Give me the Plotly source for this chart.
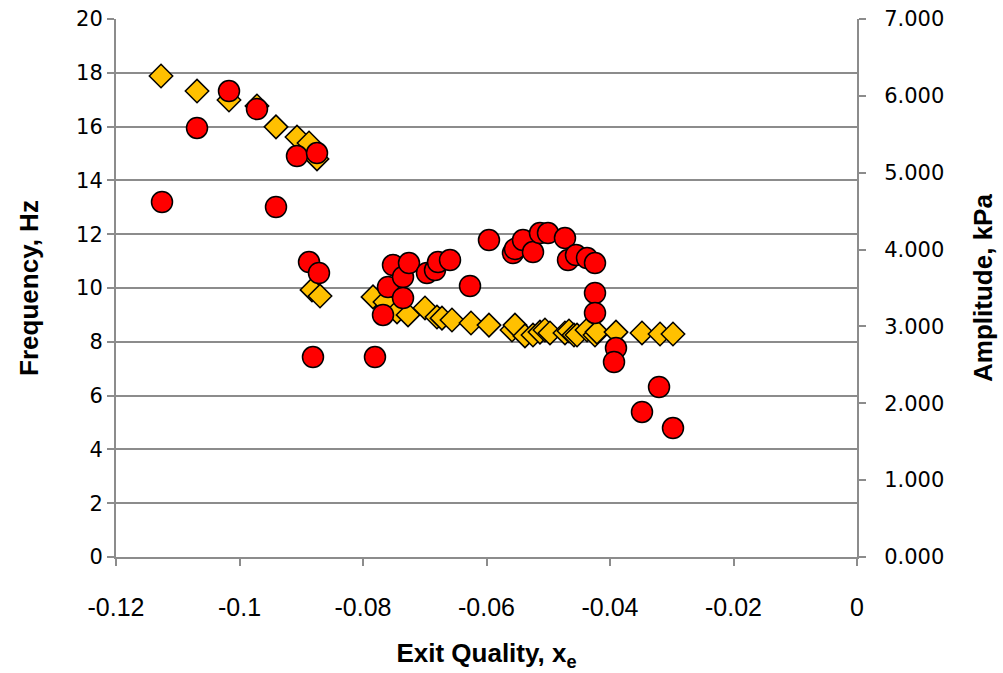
import plotly.graph_objects as go

# Frequency (left axis) vs exit quality
freq_x = [-0.11271, -0.10688, -0.10170, -0.09717, -0.09409, -0.09069, -0.08874, -0.08745,
          -0.08826, -0.08696, -0.07838, -0.07644, -0.07449, -0.07271, -0.06996, -0.06802,
          -0.06721, -0.06559, -0.06251, -0.05960, -0.05587, -0.05539, -0.05377, -0.05247,
          -0.05134, -0.05053, -0.04972, -0.04729, -0.04664, -0.04583, -0.04534, -0.04372,
          -0.04243, -0.04211, -0.03903, -0.03482, -0.03190, -0.02980]
freq_hz = [17.88, 17.32, 16.99, 16.77, 15.99, 15.61, 15.39, 14.80,
           9.93, 9.70, 9.67, 9.48, 9.11, 9.00, 9.26, 8.92,
           8.88, 8.81, 8.70, 8.62, 8.44, 8.62, 8.22, 8.25,
           8.36, 8.44, 8.33, 8.33, 8.40, 8.25, 8.25, 8.44,
           8.25, 8.36, 8.36, 8.33, 8.29, 8.29]

# Pressure amplitude (right axis) vs exit quality
amp_x = [-0.11255, -0.10688, -0.10170, -0.09717, -0.09409, -0.09069, -0.08745, -0.08874,
         -0.08713, -0.08810, -0.07806, -0.07676, -0.07595, -0.07514, -0.07352, -0.07352,
         -0.07255, -0.06964, -0.06834, -0.06785, -0.06591, -0.06267, -0.05960, -0.05571,
         -0.05539, -0.05409, -0.05247, -0.05134, -0.05004, -0.04729, -0.04680, -0.04551,
         -0.04372, -0.04243, -0.04243, -0.04243, -0.03903, -0.03935, -0.03206, -0.03482,
         -0.02980]
amp_kpa = [4.619, 5.582, 6.063, 5.829, 4.554, 5.217, 5.256, 3.838,
           3.695, 2.602, 2.602, 3.149, 3.513, 3.799, 3.643, 3.370,
           3.825, 3.695, 3.734, 3.838, 3.864, 3.526, 4.124, 3.955,
           4.007, 4.124, 3.968, 4.215, 4.215, 4.150, 3.864, 3.929,
           3.890, 3.825, 3.435, 3.175, 2.719, 2.537, 2.212, 1.887,
           1.678]

x_ticks = [-0.12, -0.1, -0.08, -0.06, -0.04, -0.02, 0]
x_tick_text = ["-0.12", "-0.1", "-0.08", "-0.06", "-0.04", "-0.02", "0"]

GRID = "#8c8c8c"
NARROW = "Liberation Sans Narrow, Arial Narrow, Liberation Sans, sans-serif"
WIDE = "DejaVu Sans, Verdana, sans-serif"

fig = go.Figure()
fig.add_trace(go.Scatter(
    x=freq_x, y=freq_hz, mode="markers", name="Frequency",
    marker=dict(symbol="diamond", size=18, color="#FFC000",
                line=dict(color="black", width=1.5)),
    yaxis="y"))
fig.add_trace(go.Scatter(
    x=amp_x, y=amp_kpa, mode="markers", name="Amplitude",
    marker=dict(symbol="circle", size=21, color="#FF0000",
                line=dict(color="black", width=1.5)),
    yaxis="y2"))

fig.update_layout(
    width=1003, height=673,
    margin=dict(l=116, r=146, t=19, b=116, autoexpand=False),
    paper_bgcolor="white", plot_bgcolor="white",
    showlegend=False,
    xaxis=dict(
        range=[-0.12, 0], tickvals=x_ticks, ticktext=x_tick_text,
        showgrid=False, zeroline=False, automargin=False,
        showline=True, linecolor=GRID, linewidth=2,
        ticks="outside", ticklen=7, tickcolor=GRID, tickwidth=1.5,
        ticklabelstandoff=20,
        tickfont=dict(family=NARROW, size=25, color="black"),
        title=dict(text="<b>Exit Quality, x<sub>e</sub></b>",
                   font=dict(family=NARROW, size=26, color="black"), standoff=24),
    ),
    yaxis=dict(
        range=[0, 20], dtick=2,
        showgrid=True, gridcolor=GRID, gridwidth=2, zeroline=False, automargin=False,
        showline=True, linecolor=GRID, linewidth=2,
        ticks="outside", ticklen=7, tickcolor=GRID, tickwidth=1.5,
        tickfont=dict(family=WIDE, size=21, color="black"),
        title=dict(text="<b>Frequency, Hz</b>",
                   font=dict(family=NARROW, size=26, color="black"), standoff=30),
    ),
    yaxis2=dict(
        range=[0, 7], dtick=1, tickformat=".3f",
        overlaying="y", side="right", automargin=False,
        showgrid=False, zeroline=False,
        showline=True, linecolor=GRID, linewidth=2,
        ticks="outside", ticklen=7, tickcolor=GRID, tickwidth=1.5,
        ticklabelstandoff=14,
        tickfont=dict(family=WIDE, size=21, color="black"),
        title=dict(text="<b>Amplitude, kPa</b>",
                   font=dict(family=NARROW, size=26, color="black"), standoff=30),
    ),
)

fig.write_html("out.html")
